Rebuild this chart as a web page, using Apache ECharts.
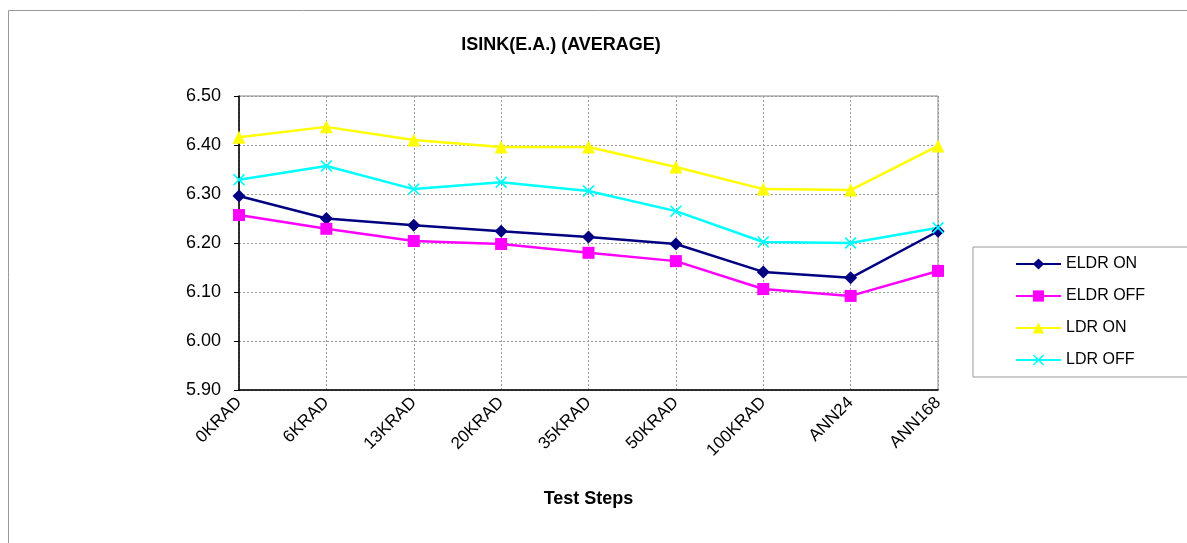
<!DOCTYPE html>
<html>
<head>
<meta charset="utf-8">
<script src="https://cdn.jsdelivr.net/npm/echarts@6/dist/echarts.min.js"></script>
<style>
  html, body { margin: 0; padding: 0; background: #fff; }
  #main { width: 1187px; height: 543px; }
</style>
</head>
<body>
<div id="main"></div>
<script>
// test steps along the x axis
const steps = ['0KRAD', '6KRAD', '13KRAD', '20KRAD', '35KRAD', '50KRAD', '100KRAD', 'ANN24', 'ANN168'];

// averages
const eldrOn  = [6.296, 6.250, 6.236, 6.224, 6.212, 6.198, 6.141, 6.129, 6.224];
const eldrOff = [6.257, 6.229, 6.204, 6.198, 6.180, 6.163, 6.106, 6.092, 6.143];
const ldrOn   = [6.416, 6.437, 6.410, 6.396, 6.396, 6.355, 6.310, 6.308, 6.398];
const ldrOff  = [6.329, 6.357, 6.310, 6.324, 6.306, 6.265, 6.202, 6.200, 6.231];

const xMark = 'path://M0,1L1,0L5,4L9,0L10,1L6,5L10,9L9,10L5,6L1,10L0,9L4,5Z';

const chart = echarts.init(document.getElementById('main'));

function line(name, data, color, symbol, size) {
  return {
    name: name,
    type: 'line',
    data: data,
    symbol: symbol,
    symbolSize: size,
    lineStyle: { color: color, width: 2.5 },
    itemStyle: { color: color },
    animation: false
  };
}

chart.setOption({
  textStyle: { fontFamily: 'Liberation Sans, Arial, sans-serif' },
  title: {
    text: 'ISINK(E.A.) (AVERAGE)',
    left: 556,
    textAlign: 'center',
    top: 31,
    textStyle: { fontSize: 18, fontWeight: 'bold', color: '#000' }
  },
  graphic: [{
    type: 'rect',
    shape: { x: 8.5, y: 10.5, width: 1200, height: 560 },
    style: { fill: 'none', stroke: '#999', lineWidth: 1 },
    z: -1
  }],
  legend: {
    orient: 'vertical',
    left: 973,
    top: 247,
    padding: [9, 60, 9, 42],
    itemWidth: 45,
    itemHeight: 14,
    itemGap: 16,
    borderColor: '#999',
    borderWidth: 1,
    textStyle: { fontSize: 16, color: '#000' },
    data: ['ELDR ON', 'ELDR OFF', 'LDR ON', 'LDR OFF']
  },
  grid: {
    left: 239,
    right: 249,
    top: 96,
    bottom: 153,
    show: true,
    borderColor: '#888',
    borderWidth: 1
  },
  xAxis: {
    type: 'category',
    data: steps,
    boundaryGap: false,
    axisLine: { lineStyle: { color: '#000', width: 1.5 } },
    axisTick: { show: false },
    splitLine: { show: true, lineStyle: { color: '#999', type: [2, 2] } },
    axisLabel: { rotate: 45, fontSize: 17, color: '#000', margin: 10 },
    name: 'Test Steps',
    nameLocation: 'middle',
    nameGap: 100,
    nameTextStyle: { fontSize: 18, fontWeight: 'bold', color: '#000' }
  },
  yAxis: {
    type: 'value',
    min: 5.9,
    max: 6.5,
    interval: 0.1,
    axisLine: { show: true, lineStyle: { color: '#000', width: 1.5 } },
    axisTick: { show: true, length: 5, lineStyle: { color: '#000' } },
    splitLine: { show: true, lineStyle: { color: '#999', type: [2, 2] } },
    axisLabel: {
      fontSize: 18,
      color: '#000',
      margin: 18,
      formatter: v => v.toFixed(2)
    }
  },
  series: [
    line('ELDR ON', eldrOn, '#000080', 'diamond', 13),
    line('ELDR OFF', eldrOff, '#FF00FF', 'rect', 12),
    line('LDR ON', ldrOn, '#FFFF00', 'triangle', 13),
    line('LDR OFF', ldrOff, '#00FFFF', xMark, 12)
  ]
});
</script>
</body>
</html>
